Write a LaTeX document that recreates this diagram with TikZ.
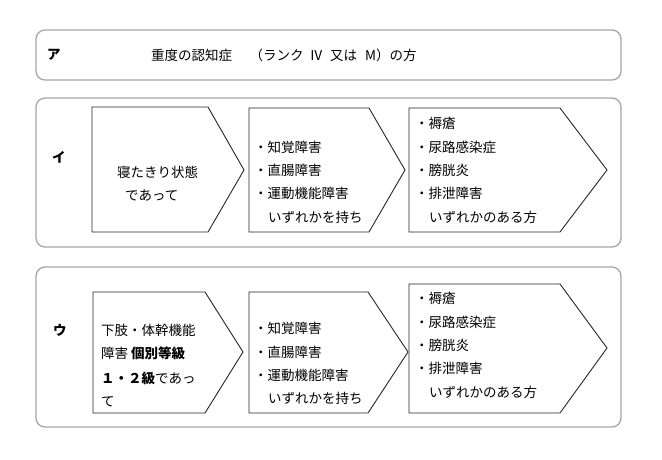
\documentclass[tikz,border=0pt]{standalone}
\usepackage{fontspec}
\setmainfont{Noto Sans CJK JP}
\begin{document}
\begin{tikzpicture}[x=1pt,y=-1pt,
  outer/.style={draw=black!35, line width=1.3pt, rounded corners=9pt},
  pent/.style={draw=black!85, line width=0.9pt},
  txt/.style={anchor=west, inner sep=0pt, font=\fontsize{13.5}{16}\selectfont},
  lbl/.style={anchor=west, inner sep=0pt, font=\fontsize{13.5}{16}\selectfont\bfseries}]
\useasboundingbox (0,0) rectangle (662,459);
% outer boxes
\draw[outer] (36,30) rectangle (621,80);
\draw[outer] (36,98) rectangle (621,247);
\draw[outer] (36,267) rectangle (621,427);
% row A
\node[lbl] (la) at (47,55) {ア};
\node[txt] (ta) at (151,55) {重度の認知症\hspace{4pt}　（ランク\hspace{6pt}Ⅳ\hspace{7pt}又は\hspace{8pt}M）の方};
% row I
\node[lbl] (li) at (52,157) {イ};
\draw[pent] (92,107) -- (208,107) -- (244,170) -- (208,232) -- (92,232) -- cycle;
\draw[pent] (249,108) -- (369,108) -- (405,170) -- (369,232) -- (249,232) -- cycle;
\draw[pent] (409,108) -- (560,108) -- (607,170) -- (560,232) -- (409,232) -- cycle;
\node[txt] (i1a) at (117,172) {寝たきり状態};
\node[txt] (i1b) at (125,195) {であって};
\node[txt] (i2a) at (254,147) {・知覚障害};
\node[txt] (i2b) at (254,170) {・直腸障害};
\node[txt] (i2c) at (254,193) {・運動機能障害};
\node[txt] (i2d) at (268,217) {いずれかを持ち};
\node[txt] (i3a) at (415,123) {・褥瘡};
\node[txt] (i3b) at (415,147) {・尿路感染症};
\node[txt] (i3c) at (415,170) {・膀胱炎};
\node[txt] (i3d) at (415,193) {・排泄障害};
\node[txt] (i3e) at (429,217) {いずれかのある方};
% row U
\node[lbl] (lu) at (53,330) {ウ};
\draw[pent] (93,292) -- (205,292) -- (243,352) -- (205,413) -- (93,413) -- cycle;
\draw[pent] (249,292) -- (368,292) -- (408,352) -- (368,413) -- (249,413) -- cycle;
\draw[pent] (409,284) -- (560,284) -- (607,348) -- (560,413) -- (409,413) -- cycle;
\node[txt] (u1a) at (101,330) {下肢・体幹機能};
\node[txt] (u1b) at (101,353) {障害 \textbf{個別等級}};
\node[txt] (u1c) at (101,378) {\textbf{１・２級}であっ};
\node[txt] (u1d) at (101,402) {て};
\node[txt] (u2a) at (254,328) {・知覚障害};
\node[txt] (u2b) at (254,352) {・直腸障害};
\node[txt] (u2c) at (254,375) {・運動機能障害};
\node[txt] (u2d) at (268,398) {いずれかを持ち};
\node[txt] (u3a) at (415,298) {・褥瘡};
\node[txt] (u3b) at (415,322) {・尿路感染症};
\node[txt] (u3c) at (415,345) {・膀胱炎};
\node[txt] (u3d) at (415,368) {・排泄障害};
\node[txt] (u3e) at (429,392) {いずれかのある方};
\end{tikzpicture}
\end{document}
